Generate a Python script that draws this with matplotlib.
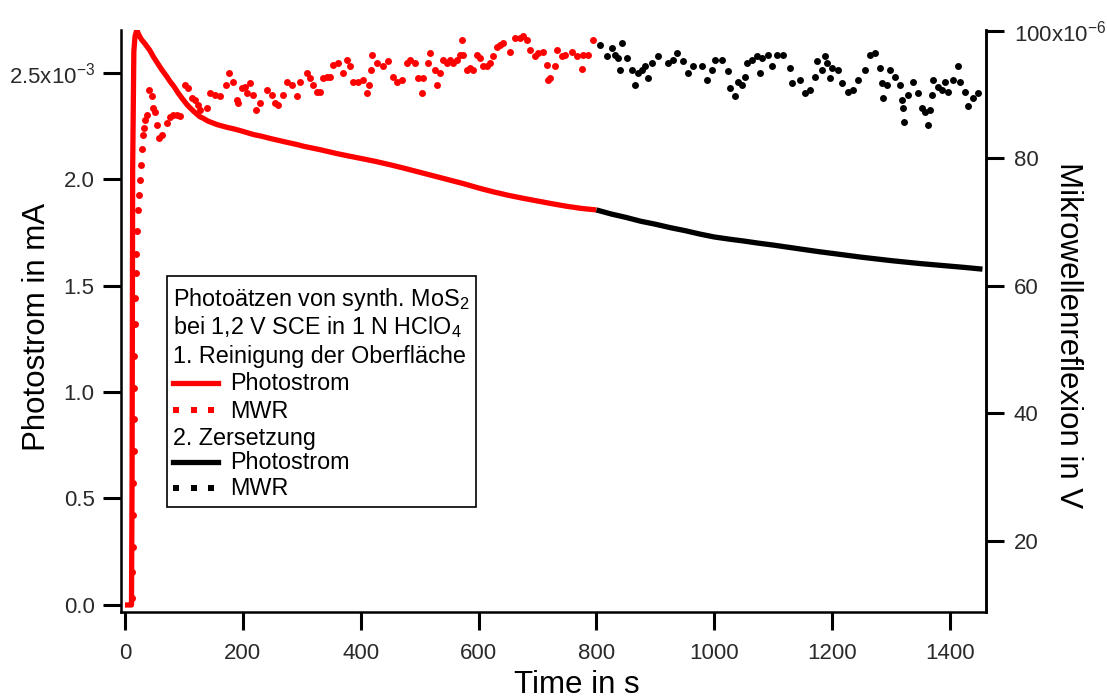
import matplotlib
matplotlib.use("Agg")
import matplotlib.pyplot as plt
from matplotlib.lines import Line2D
from matplotlib.patches import Rectangle

plt.rcParams['font.family'] = ['Liberation Sans', 'DejaVu Sans']
plt.rcParams['mathtext.fontset'] = 'custom'
plt.rcParams['mathtext.rm'] = 'Liberation Sans'
plt.rcParams['mathtext.it'] = 'Liberation Sans'

# Photostrom (mA), step 1 (red) and step 2 (black)
t_ps1 = [0, 6, 11, 12, 13, 15, 17, 20, 23, 28, 34, 42, 48, 55, 62, 71, 76, 83, 90, 98,
         105, 112, 119, 127, 133, 141, 156, 161, 173, 184, 195, 206, 218, 232, 246, 260,
         274, 292, 303, 317, 331, 345, 359, 380, 400, 425, 450, 475, 500, 525, 550, 575,
         600, 625, 650, 675, 700, 725, 750, 775, 800]
ps1 = [0, 0, 0, 0.6, 2.05, 2.60, 2.67, 2.70, 2.68, 2.655, 2.635, 2.605, 2.575, 2.545, 2.515,
       2.481, 2.46, 2.435, 2.405, 2.375, 2.35, 2.33, 2.312, 2.293, 2.285, 2.272, 2.256, 2.252,
       2.243, 2.236, 2.228, 2.219, 2.209, 2.201, 2.191, 2.182, 2.173, 2.162, 2.154, 2.146,
       2.138, 2.129, 2.12, 2.108, 2.097, 2.083, 2.067, 2.05, 2.032, 2.014, 1.996, 1.978,
       1.958, 1.94, 1.924, 1.91, 1.897, 1.884, 1.872, 1.862, 1.855]
t_ps2 = [800, 825, 850, 875, 900, 925, 950, 975, 1000, 1025, 1050, 1075, 1100, 1125, 1150,
         1175, 1200, 1225, 1250, 1275, 1300, 1325, 1350, 1375, 1400, 1425, 1455]
ps2 = [1.855, 1.836, 1.82, 1.802, 1.788, 1.772, 1.758, 1.742, 1.728, 1.718, 1.709, 1.699,
       1.69, 1.68, 1.67, 1.66, 1.651, 1.642, 1.633, 1.625, 1.617, 1.61, 1.603, 1.597, 1.591,
       1.585, 1.577]

# MWR (x10^-6 V)
t_mwr1 = [12, 12.5, 13, 13.5, 14, 14.5, 15, 15.5, 16, 16.5, 17, 18, 19, 20.5,
          22.6, 23.8, 25.5, 26.6, 28.3, 30, 32.2, 33.9, 36.8, 41.3, 45.3, 48.1, 50.9, 53.7,
          58.3, 62.2, 70.7, 76.4, 82, 87.7, 93.3, 101.8, 107.5, 113.1, 118.8, 124.4, 127.3,
          139.7, 144.2, 152.7, 161.2, 171.4, 177, 183.8, 189.5, 192.3, 198, 203.6, 206.5,
          212.1, 217.7, 222.3, 229.1, 240.4, 248.9, 254.5, 260.2, 268.7, 274.4, 282.9,
          291.3, 297, 308.3, 313.9, 319.6, 325.3, 330.9, 336.6, 342.3, 347.9, 353.5, 362,
          370.5, 376.2, 381.8, 387.5, 395.9, 404.4, 410.1, 414.6, 416.9, 418.6, 427.1, 438.4,
          446.8, 455.3, 461, 469.5, 478, 483.6, 492.1, 497.7, 503.5, 506.2, 514.7, 517.6,
          526, 528.9, 534.5, 540.1, 545.9, 551.5, 557.1, 562.9, 568.5, 571.3, 574.1, 579.8,
          585.4, 591, 596.8, 602.4, 608, 613.8, 619.4, 625, 630.8, 636.3, 642, 653.3, 661.8,
          670.3, 675.9, 681.6, 687.3, 695.7, 701.4, 709.8, 715.6, 718.3, 721.2, 729.7,
          732.6, 741, 746.6, 758, 766.5, 775, 777.7, 786.2, 794.7]
mwr1 = [11, 15, 19, 24, 29, 34, 39, 44, 49, 54, 58, 62, 65, 68.5,
        71.8, 74.2, 76.5, 78.9, 81.5, 83.6, 84.7, 86, 86.8, 90.7, 89.7, 87.8, 87.3, 85.2,
        83.1, 83.6, 85.5, 86.5, 86.8, 86.8, 86.6, 91.5, 91, 89.4, 89.1, 88.3, 87.6,
        87.8, 90.2, 89.9, 89.8, 91.5, 93.3, 92, 89.1, 88.6, 91, 91.2, 90.2,
        91.8, 89.9, 87.6, 88.6, 90.7, 89.9, 88.6, 88.3, 89.9, 92, 91.5,
        89.7, 92, 93.3, 92.5, 91.5, 90.4, 90.4, 92.5, 92.7, 92.8, 94.6, 94.9,
        93.3, 95.4, 94.4, 92, 92, 92.3, 90.2, 91.5, 93.9, 96.2, 94.9, 94.4,
        95.2, 92.8, 92, 92.3, 94.9, 95.4, 94.9, 92.5, 90.2, 92.5, 94.9, 96.5,
        93.9, 91.5, 93.3, 95.4, 94.9, 95.4, 94.9, 95.4, 96.2, 98.6, 96.2, 93.9,
        94.1, 93.9, 96.2, 95.7, 94.4, 94.4, 94.9, 96, 97.5, 97.8, 98.1, 96.7, 98.9,
        98.9, 99.1, 98.6, 97, 96, 96.5, 96.7, 94.6, 92.3, 92.5, 94.4,
        97, 96, 96.2, 96.7, 96, 94, 96.2, 96.2, 98.6]
t_mwr2 = [806, 817.4, 825.9, 831.5, 837.1, 840, 842.8, 851.3, 859.8, 865.4, 871, 876.8,
          882.4, 888, 893.8, 905, 922, 930.4, 936.2, 947.4, 955.9, 964.4, 978.6, 987.1,
          995.6, 1001.2, 1012.6, 1023.8, 1026.6, 1035.1, 1040.7, 1046.5, 1052.1, 1055,
          1063.5, 1072, 1077, 1080.4, 1091.6, 1097.4, 1105.9, 1117.1, 1128.5, 1131.3,
          1145.4, 1153.9, 1162.4, 1170.9, 1173.8, 1182.3, 1187.9, 1190.7, 1196.3, 1199.2,
          1210.5, 1216.2, 1227.5, 1236, 1244.4, 1255.7, 1264.2, 1272.7, 1281.2, 1284,
          1286.8, 1292.6, 1298.1, 1306.6, 1315.1, 1318, 1320.7, 1322, 1329.2, 1337.7,
          1346.2, 1351.9, 1357.5, 1363.1, 1366, 1368.9, 1371.6, 1380.1, 1385.9, 1391.5,
          1397.1, 1405.6, 1414.1, 1416.9, 1425.4, 1431, 1439.5, 1448]
mwr2 = [97.8, 96, 97.3, 96.2, 95.7, 93.9, 98.1, 95.7, 93.9, 91.5, 93.3, 93.9,
        94.4, 92.5, 94.9, 96, 94.9, 95.4, 96.5, 95.2, 93.3, 94.4, 94.4, 92.3,
        93.9, 95.4, 95.4, 93.6, 91, 89.7, 92, 91.5, 92.8, 94.9,
        95.4, 96, 93.3, 95.7, 96.2, 94.4, 96.2, 96.2, 94.1, 91.8,
        92.3, 90.2, 90.7, 92.8, 95.2, 93.9, 96, 94.9, 92.5, 94.1,
        93.9, 91.8, 90.4, 90.7, 92.3, 93.9, 96.2, 96.5, 94.1, 91.8,
        89.4, 91.5, 93.9, 92.8, 91.5, 89.1, 87.8, 85.7, 89.9, 92,
        90.2, 87.8, 87.3, 85.2, 87.6, 89.9, 92.3, 91.2, 90.7, 92,
        90.4, 92.3, 94.4, 92, 90.4, 88.1, 89.4, 90.2]

left_ticks = [0, 0.5, 1.0, 1.5, 2.0, 2.5]
left_labels = ['0.0', '0.5', '1.0', '1.5', '2.0', '2.5x10$^{-3}$']
right_ticks = [20, 40, 60, 80, 100]
right_labels = ['20', '40', '60', '80', '100x10$^{-6}$']
x_ticks = [0, 200, 400, 600, 800, 1000, 1200, 1400]

W, H = 1107, 699
fig = plt.figure(figsize=(W / 100, H / 100), dpi=100)
ax = fig.add_axes([121 / W, 1 - 612 / H, 865 / W, 582 / H])
ax2 = ax.twinx()

ax.plot(t_ps1, ps1, color='red', lw=3.8, solid_capstyle='butt')
ax.plot(t_ps2, ps2, color='black', lw=3.8, solid_capstyle='butt')
ax2.plot(t_mwr1, mwr1, 'o', color='red', ms=5, mew=0)
ax2.plot(t_mwr2, mwr2, 'o', color='black', ms=5, mew=0)

ax.set_xlim(-6.8, 1461)
ax.set_ylim(-0.033, 2.70)
ax2.set_ylim(8.8, 100.1)

ax.set_xticks(x_ticks)
ax.set_yticks(left_ticks)
ax.set_yticklabels(left_labels)
ax2.set_yticks(right_ticks)
ax2.set_yticklabels(right_labels)

for a in (ax, ax2):
    a.spines['top'].set_visible(False)
    for s in a.spines.values():
        s.set_linewidth(1.8)
    a.tick_params(length=13, width=2.2, labelsize=16, labelcolor='#2a2a2a')
ax.tick_params(axis='x', pad=9)
ax.tick_params(axis='y', pad=6)
ax2.tick_params(axis='y', pad=7)
ax2.spines['left'].set_visible(False)
ax2.spines['bottom'].set_visible(False)


def px(x, y):
    return (x / W, 1 - y / H)


fig.text(*px(577, 693), 'Time in s', fontsize=22.5, ha='center', va='baseline')
fig.text(*px(37, 327), 'Photostrom in mA', fontsize=22.5, rotation=90,
         ha='center', va='center')
fig.text(*px(1068, 335), 'Mikrowellenreflexion in V', fontsize=22.5, rotation=270,
         ha='center', va='center')

# legend box
x0, y0 = px(167, 507)
x1, y1 = px(476, 276)
fig.patches.append(Rectangle((x0, y0), x1 - x0, y1 - y0, transform=fig.transFigure,
                             fill=False, edgecolor='black', lw=1.2, zorder=5))
fs = 16.8
fig.text(*px(173, 306), 'Photoätzen von synth. MoS$_2$', fontsize=fs, va='baseline')
fig.text(*px(173, 334), 'bei 1,2 V SCE in 1 N HClO$_4$', fontsize=fs, va='baseline')
fig.text(*px(173, 363), '1. Reinigung der Oberfläche', fontsize=fs, va='baseline')
fig.text(*px(230, 390), 'Photostrom', fontsize=fs, va='baseline')
fig.text(*px(230, 418), 'MWR', fontsize=fs, va='baseline')
fig.text(*px(173, 445), '2. Zersetzung', fontsize=fs, va='baseline')
fig.text(*px(230, 469), 'Photostrom', fontsize=fs, va='baseline')
fig.text(*px(230, 495), 'MWR', fontsize=fs, va='baseline')

for yy, col in ((383, 'red'), (462, 'black')):
    (ax_, ay_), (bx_, by_) = px(173, yy), px(218, yy)
    fig.lines.append(Line2D([ax_, bx_], [ay_, by_], transform=fig.transFigure,
                            color=col, lw=3.8))
for yy, col in ((410, 'red'), (488, 'black')):
    (ax_, ay_), (bx_, by_) = px(176, yy), px(211, yy)
    fig.lines.append(Line2D([ax_, (ax_ + bx_) / 2, bx_], [ay_, ay_, by_],
                            transform=fig.transFigure, color=col, ls='none',
                            marker='s', ms=4.5, mew=0))

fig.savefig('out.png', dpi=100)
